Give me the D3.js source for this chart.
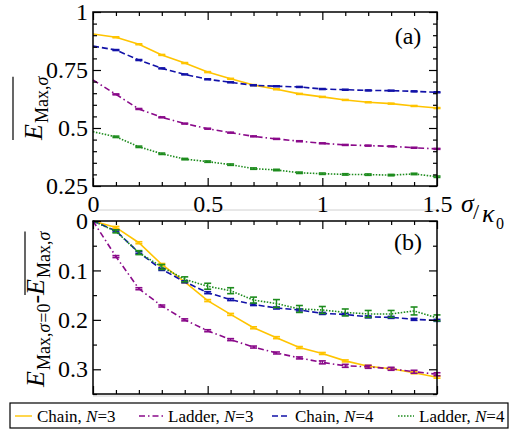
<!DOCTYPE html>
<html>
<head>
<meta charset="utf-8">
<script src="https://cdn.jsdelivr.net/npm/d3@7"></script>
<style>
  body { margin: 0; background: #fff; }
  svg { display: block; }
</style>
</head>
<body>
<div id="chart"></div>
<script>
// Disorder dependence of the averaged max energy, two panels sharing sigma/kappa0.

const sigma = [0, 0.1, 0.2, 0.3, 0.4, 0.5, 0.6, 0.7, 0.8, 0.9, 1.0, 1.1, 1.2, 1.3, 1.4, 1.5];

// Panel (a): mean E_max vs sigma.
const chain3A  = [0.905, 0.891, 0.861, 0.815, 0.780, 0.741, 0.712, 0.685, 0.667, 0.647, 0.634, 0.621, 0.611, 0.605, 0.595, 0.586];
const ladder3A = [0.707, 0.645, 0.582, 0.546, 0.519, 0.497, 0.480, 0.464, 0.453, 0.443, 0.434, 0.427, 0.424, 0.421, 0.415, 0.410];
const chain4A  = [0.853, 0.836, 0.793, 0.757, 0.731, 0.710, 0.697, 0.684, 0.680, 0.677, 0.668, 0.665, 0.662, 0.661, 0.658, 0.654];
const ladder4A = [0.484, 0.462, 0.419, 0.389, 0.366, 0.355, 0.342, 0.325, 0.319, 0.307, 0.303, 0.300, 0.299, 0.297, 0.302, 0.290];

const chain3AErr  = [0.002, 0.002, 0.002, 0.002, 0.002, 0.002, 0.002, 0.002, 0.002, 0.002, 0.002, 0.002, 0.002, 0.002, 0.002, 0.002];
const ladder3AErr = [0.002, 0.002, 0.002, 0.002, 0.002, 0.002, 0.002, 0.002, 0.002, 0.002, 0.002, 0.002, 0.002, 0.002, 0.002, 0.002];
const chain4AErr  = [0.002, 0.002, 0.002, 0.002, 0.002, 0.002, 0.002, 0.002, 0.002, 0.002, 0.002, 0.002, 0.002, 0.002, 0.002, 0.002];
const ladder4AErr = [0.003, 0.003, 0.003, 0.003, 0.003, 0.003, 0.003, 0.003, 0.003, 0.003, 0.003, 0.003, 0.003, 0.003, 0.003, 0.003];

// Panel (b): E_max(sigma=0) - mean E_max(sigma).
const chain3B  = [0, 0.013, 0.044, 0.088, 0.123, 0.161, 0.189, 0.216, 0.236, 0.256, 0.268, 0.283, 0.294, 0.299, 0.307, 0.316];
const ladder3B = [0, 0.072, 0.137, 0.172, 0.200, 0.222, 0.240, 0.255, 0.267, 0.277, 0.286, 0.293, 0.295, 0.299, 0.305, 0.310];
const chain4B  = [0, 0.020, 0.064, 0.098, 0.123, 0.145, 0.159, 0.169, 0.176, 0.180, 0.187, 0.189, 0.194, 0.195, 0.199, 0.201];
const ladder4B = [0, 0.021, 0.064, 0.093, 0.118, 0.132, 0.141, 0.160, 0.167, 0.178, 0.180, 0.185, 0.188, 0.188, 0.182, 0.196];

const chain3BErr  = [0, 0.002, 0.002, 0.002, 0.002, 0.002, 0.002, 0.002, 0.002, 0.002, 0.002, 0.002, 0.002, 0.002, 0.002, 0.002];
const ladder3BErr = [0, 0.002, 0.002, 0.002, 0.002, 0.002, 0.002, 0.002, 0.002, 0.002, 0.003, 0.003, 0.003, 0.003, 0.003, 0.003];
const chain4BErr  = [0, 0.002, 0.002, 0.002, 0.002, 0.002, 0.002, 0.002, 0.002, 0.002, 0.002, 0.002, 0.002, 0.002, 0.002, 0.002];
const ladder4BErr = [0, 0.003, 0.004, 0.005, 0.005, 0.006, 0.006, 0.006, 0.008, 0.007, 0.007, 0.007, 0.007, 0.007, 0.008, 0.006];

const xTickLabels = [0, 0.5, 1, 1.5];
const yTickLabelsA = [0.25, 0.5, 0.75, 1];
const yTickLabelsB = [0, 0.1, 0.2, 0.3];

const series = [
    { lattice: 'Chain',  n: 3, a: chain3A,  ea: chain3AErr,  b: chain3B,  eb: chain3BErr,  color: '#ffc400', dash: null },
    { lattice: 'Ladder', n: 3, a: ladder3A, ea: ladder3AErr, b: ladder3B, eb: ladder3BErr, color: '#8a0a8a', dash: '6,3,1.5,3' },
    { lattice: 'Chain',  n: 4, a: chain4A,  ea: chain4AErr,  b: chain4B,  eb: chain4BErr,  color: '#1212a8', dash: '6,3' },
    { lattice: 'Ladder', n: 4, a: ladder4A, ea: ladder4AErr, b: ladder4B, eb: ladder4BErr, color: '#1e8c1e', dash: '1.5,1.5' }
];

const FONT = 'Liberation Serif';
const width = 522, height = 431;
const svg = d3.select('#chart').append('svg')
    .attr('width', width)
    .attr('height', height);

const x = d3.scaleLinear().domain([0, 1.5]).range([93, 437]);
const yA = d3.scaleLinear().domain([0.25, 1]).range([186, 12]);
const yB = d3.scaleLinear().domain([0, 0.35]).range([221, 394]);

const steps = (lo, hi, st) => d3.range(Math.round((hi - lo) / st) + 1).map(i => +(lo + i * st).toFixed(3));
const xMinor = steps(0, 1.5, 0.1);

// faint borders left over from the original figure
[210, 396].forEach(yy => {
    svg.append('line')
        .attr('x1', 93).attr('x2', 437).attr('y1', yy).attr('y2', yy)
        .attr('stroke', '#d0d0d0').attr('stroke-width', 1);
});

function fmt(d) { return String(d); }

function drawAxes(y, yMinor, yMajor, yLabels, showX) {
    const [top, bottom] = [y.range()[0], y.range()[1]].sort((a, b) => a - b);
    const g = svg.append('g');

    const tickSz = (vals, d) => vals.some(v => Math.abs(v - d) < 1e-6) ? 8 : 4;

    // x ticks, bottom and top
    const xb = g.append('g').attr('transform', `translate(0,${bottom})`)
        .call(d3.axisBottom(x).tickValues(xMinor).tickSize(0).tickFormat(''));
    xb.selectAll('.tick line').attr('y2', d => -tickSz(xTickLabels, d));
    const xt = g.append('g').attr('transform', `translate(0,${top})`)
        .call(d3.axisTop(x).tickValues(xMinor).tickSize(0).tickFormat(''));
    xt.selectAll('.tick line').attr('y2', d => tickSz(xTickLabels, d));

    // y ticks, left and right
    const yl = g.append('g').attr('transform', `translate(${x.range()[0]},0)`)
        .call(d3.axisLeft(y).tickValues(yMinor).tickSize(0).tickFormat(''));
    yl.selectAll('.tick line').attr('x2', d => tickSz(yMajor, d));
    const yr = g.append('g').attr('transform', `translate(${x.range()[1]},0)`)
        .call(d3.axisRight(y).tickValues(yMinor).tickSize(0).tickFormat(''));
    yr.selectAll('.tick line').attr('x2', d => -tickSz(yMajor, d));

    g.selectAll('.domain').remove();
    g.selectAll('.tick line').attr('stroke', '#000').attr('stroke-width', 1.2);

    // tick labels
    g.append('g').attr('transform', `translate(${x.range()[0]},0)`)
        .call(d3.axisLeft(y).tickValues(yLabels).tickSize(0).tickPadding(5).tickFormat(fmt))
        .call(s => s.select('.domain').remove())
        .selectAll('text').attr('fill', '#000').style('font-size', '24px');

    if (showX) {
        g.append('g').attr('transform', `translate(0,${bottom})`)
            .call(d3.axisBottom(x).tickValues(xTickLabels).tickSize(0).tickPadding(9).tickFormat(fmt))
            .call(s => s.select('.domain').remove())
            .selectAll('text').attr('fill', '#000').style('font-size', '24px');
    }

    // frame
    g.append('rect')
        .attr('x', x.range()[0]).attr('y', top)
        .attr('width', x.range()[1] - x.range()[0]).attr('height', bottom - top)
        .attr('fill', 'none').attr('stroke', '#000').attr('stroke-width', 1.5);
}

function drawSeries(y, key, errKey) {
    const g = svg.append('g');
    const line = d3.line().x((d, i) => x(sigma[i])).y(d => y(d));
    series.forEach(s => {
        g.append('path')
            .attr('d', line(s[key]))
            .attr('fill', 'none')
            .attr('stroke', s.color)
            .attr('stroke-width', 1.6)
            .attr('stroke-dasharray', s.dash);
        // error bars with caps
        s[key].forEach((v, i) => {
            if (i === 0) return;
            const e = s[errKey][i];
            const cx = x(sigma[i]);
            const y0 = y(v - e), y1 = y(v + e);
            g.append('line').attr('x1', cx).attr('x2', cx).attr('y1', y0).attr('y2', y1)
                .attr('stroke', s.color).attr('stroke-width', 1.4);
            [y0, y1].forEach(yy => {
                g.append('line').attr('x1', cx - 3.5).attr('x2', cx + 3.5).attr('y1', yy).attr('y2', yy)
                    .attr('stroke', s.color).attr('stroke-width', 1.6);
            });
        });
    });
}

// Panel (a)
drawSeries(yA, 'a', 'ea');
drawAxes(yA, steps(0.25, 1, 0.05), yTickLabelsA, yTickLabelsA, true);
svg.append('text').attr('x', 408).attr('y', 44).attr('text-anchor', 'middle')
    .style('font-size', '24px').text('(a)');

// Panel (b)
drawSeries(yB, 'b', 'eb');
drawAxes(yB, steps(0, 0.35, 0.05), yTickLabelsB, yTickLabelsB, false);
svg.append('text').attr('x', 408).attr('y', 250).attr('text-anchor', 'middle')
    .style('font-size', '24px').text('(b)');

// x-axis label sigma / kappa_0
const xl = svg.append('g');
xl.append('text').attr('x', 461).attr('y', 212).style('font-size', '26px').style('font-style', 'italic').text('σ');
xl.append('text').attr('x', 473).attr('y', 219).style('font-size', '22px').text('/');
xl.append('text').attr('x', 482).attr('y', 222).style('font-size', '26px').style('font-style', 'italic').text('κ');
xl.append('text').attr('x', 496).attr('y', 229).style('font-size', '16px').text('0');

// rotated y labels built from pieces, optional overline across the barred ones
function yLabel(px, py, pieces, barOffset) {
    const g = svg.append('g').attr('transform', `translate(${px},${py}) rotate(-90)`);
    let cursor = 0;
    pieces.forEach(p => {
        const t = g.append('text')
            .attr('x', cursor)
            .attr('y', p.sub ? 6 : 0)
            .style('font-family', FONT)
            .style('font-size', p.sub ? '18px' : '26px')
            .style('font-style', p.italic ? 'italic' : 'normal')
            .text(p.text);
        const w = t.node().getComputedTextLength();
        p.start = cursor;
        p.end = cursor + w;
        cursor += w + (p.italic ? 1 : 0);
    });
    const barred = pieces.filter(p => p.bar);
    if (barred.length) {
        g.append('line')
            .attr('x1', barred[0].start).attr('x2', barred[barred.length - 1].end)
            .attr('y1', -barOffset).attr('y2', -barOffset)
            .attr('stroke', '#000').attr('stroke-width', 1.2);
    }
}

yLabel(42, 140, [
    { text: 'E', italic: true, bar: true },
    { text: 'Max,', sub: true, bar: true },
    { text: 'σ', sub: true, italic: true, bar: true }
], 29);

yLabel(44, 387, [
    { text: 'E', italic: true },
    { text: 'Max,', sub: true },
    { text: 'σ', sub: true, italic: true },
    { text: '=0', sub: true },
    { text: '-' },
    { text: 'E', italic: true, bar: true },
    { text: 'Max,', sub: true, bar: true },
    { text: 'σ', sub: true, italic: true, bar: true }
], 19);

// Legend
const legend = svg.append('g');
legend.append('rect').attr('x', 10).attr('y', 403).attr('width', 498).attr('height', 25)
    .attr('fill', '#fff').attr('stroke', '#000').attr('stroke-width', 1.2);
const legendX = [15, 139, 272, 398];
const legendLen = [17, 24, 18, 16];
series.forEach((s, i) => {
    const lx = legendX[i];
    legend.append('line')
        .attr('x1', lx).attr('x2', lx + legendLen[i]).attr('y1', 416).attr('y2', 416)
        .attr('stroke', s.color).attr('stroke-width', 1.4).attr('stroke-dasharray', s.dash);
    const t = legend.append('text').attr('x', lx + legendLen[i] + 5).attr('y', 422).style('font-size', '17px');
    t.append('tspan').text(`${s.lattice}, `);
    t.append('tspan').style('font-style', 'italic').text('N');
    t.append('tspan').text(`=${s.n}`);
});

// serif everywhere, set on each text so nothing inherits the axis default
svg.selectAll('text').style('font-family', FONT);
</script>
</body>
</html>
